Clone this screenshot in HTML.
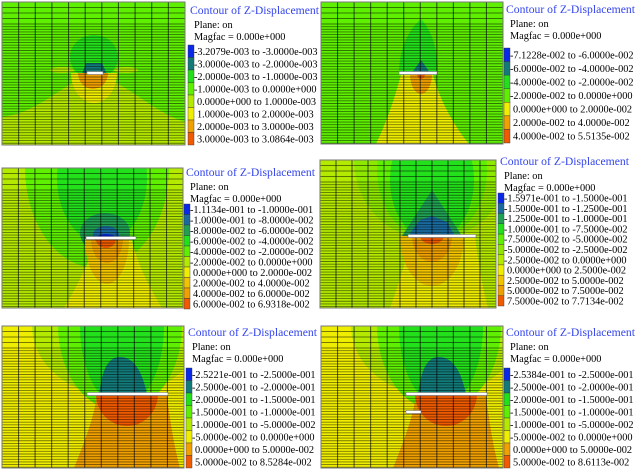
<!DOCTYPE html>
<html><head><meta charset="utf-8"><style>
html,body{margin:0;padding:0;background:#fff;}
svg{display:block;font-family:"Liberation Serif",serif;}
</style></head><body>
<svg id="root" width="637" height="471" viewBox="0 0 637 471" xmlns="http://www.w3.org/2000/svg"></svg>
<script>
const NS="http://www.w3.org/2000/svg";
const C={blue:"#0a28e8",teal:"#137a7a",dteal:"#1a6aa0",mgreen:"#1fa052",bgreen:"#22e01a",green:"#5ef000",lgreen:"#8ee800",ygreen:"#b4ea00",yellow:"#f0ee00",lorange:"#f2c400",orange:"#f0a000",red:"#f05a00"};
const legend1=["-3.2079e-003 to -3.0000e-003","-3.0000e-003 to -2.0000e-003","-2.0000e-003 to -1.0000e-003","-1.0000e-003 to 0.0000e+000","0.0000e+000 to 1.0000e-003","1.0000e-003 to 2.0000e-003","2.0000e-003 to 3.0000e-003","3.0000e-003 to 3.0864e-003"];
const colors1=[C.blue,C.teal,C.bgreen,C.green,C.ygreen,C.yellow,C.orange,C.red];
const legend2=["-7.1228e-002 to -6.0000e-002","-6.0000e-002 to -4.0000e-002","-4.0000e-002 to -2.0000e-002","-2.0000e-002 to 0.0000e+000","0.0000e+000 to 2.0000e-002","2.0000e-002 to 4.0000e-002","4.0000e-002 to 5.5135e-002"];
const colors2=[C.blue,C.teal,C.bgreen,C.green,C.yellow,C.orange,C.red];
const legend3=["-1.1134e-001 to -1.0000e-001","-1.0000e-001 to -8.0000e-002","-8.0000e-002 to -6.0000e-002","-6.0000e-002 to -4.0000e-002","-4.0000e-002 to -2.0000e-002","-2.0000e-002 to 0.0000e+000","0.0000e+000 to 2.0000e-002","2.0000e-002 to 4.0000e-002","4.0000e-002 to 6.0000e-002","6.0000e-002 to 6.9318e-002"];
const colors3=[C.blue,C.dteal,C.mgreen,C.bgreen,C.green,C.ygreen,C.yellow,C.lorange,C.orange,C.red];
const legend4=["-1.5971e-001 to -1.5000e-001","-1.5000e-001 to -1.2500e-001","-1.2500e-001 to -1.0000e-001","-1.0000e-001 to -7.5000e-002","-7.5000e-002 to -5.0000e-002","-5.0000e-002 to -2.5000e-002","-2.5000e-002 to 0.0000e+000","0.0000e+000 to 2.5000e-002","2.5000e-002 to 5.0000e-002","5.0000e-002 to 7.5000e-002","7.5000e-002 to 7.7134e-002"];
const colors4=[C.blue,C.dteal,C.mgreen,C.bgreen,C.green,C.lgreen,C.ygreen,C.yellow,C.lorange,C.orange,C.red];
const legend5=["-2.5221e-001 to -2.5000e-001","-2.5000e-001 to -2.0000e-001","-2.0000e-001 to -1.5000e-001","-1.5000e-001 to -1.0000e-001","-1.0000e-001 to -5.0000e-002","-5.0000e-002 to 0.0000e+000","0.0000e+000 to 5.0000e-002","5.0000e-002 to 8.5284e-002"];
const colors5=[C.blue,C.teal,C.bgreen,C.green,C.ygreen,C.yellow,C.orange,C.red];
const legend6=["-2.5384e-001 to -2.5000e-001","-2.5000e-001 to -2.0000e-001","-2.0000e-001 to -1.5000e-001","-1.5000e-001 to -1.0000e-001","-1.0000e-001 to -5.0000e-002","-5.0000e-002 to 0.0000e+000","0.0000e+000 to 5.0000e-002","5.0000e-002 to 8.6113e-002"];
const colors6=colors5;

const root=document.getElementById('root');
function el(tag,attrs,parent){const e=document.createElementNS(NS,tag);for(const k in attrs)e.setAttribute(k,attrs[k]);(parent||root).appendChild(e);return e;}
function half(cx,y,rx,ry){return `M${cx-rx},${y} A${rx},${ry} 0 0 0 ${cx+rx},${y} Z`;}

function panel(id,px,py,W,H,bg,shapes,bars,leg,cols,lx,ty,rowTop,rowBot){
  const g=el('g',{transform:`translate(${px},${py})`});
  
  
  const cid='clip'+id;
  const cp=el('clipPath',{id:cid},g);el('rect',{x:0,y:0,width:W,height:H},cp);
  const inner=el('g',{'clip-path':`url(#${cid})`},g);
  el('rect',{x:0,y:0,width:W,height:H,fill:bg},inner);
  shapes.forEach(s=>{const p=el(s[0],s[2],inner);p.setAttribute('fill',s[1]);});
  let y=0,ys=[];
  for(let i=0;i<4;i++){ys.push(y);y+=5.5;}
  while(y<H){ys.push(y);y+=2.65;}
  ys.forEach(v=>el('line',{x1:0,x2:W,y1:v,y2:v,stroke:'#000','stroke-opacity':0.5,'stroke-width':0.9},inner));
  for(let i=1;i<11;i++){const x=W*i/11;el('line',{x1:x,x2:x,y1:0,y2:H,stroke:'#000','stroke-opacity':0.6,'stroke-width':1.1},inner);}
  bars.forEach(b=>{const r=el('rect',{x:b[0],y:b[1]-1.5,width:b[2],height:3,fill:'#fff',stroke:'#667','stroke-width':0.5},inner);});
  el('rect',{x:0,y:0,width:W,height:H,fill:'none',stroke:'#777','stroke-width':1},g);
  const lg=el('g',{});
  
  
  const t=el('text',{x:lx,y:ty,'font-size':11.5,fill:'#3344ee',textLength:Math.min(129,636-lx),lengthAdjust:'spacingAndGlyphs'},lg);t.textContent='Contour of Z-Displacement';
  
  const a=el('text',{x:lx+4,y:ty+14,'font-size':10.3,fill:'#000'},lg);a.textContent='Plane: on';
  
  const m=el('text',{x:lx+4,y:ty+26,'font-size':10.3,fill:'#000'},lg);m.textContent='Magfac = 0.000e+000';
  
  const n=leg.length,rh=(rowBot-rowTop)/n;
  leg.forEach((s,i)=>{
    const sw=el('rect',{x:lx-2,y:rowTop+i*rh,width:6,height:rh,fill:cols[i],stroke:'#333','stroke-width':0.4},lg);
    
    const tx=el('text',{x:lx+4+(s[0]=='-'?0:3),y:rowTop+i*rh+rh/2+3.5,'font-size':10.3,fill:'#000'},lg);
    tx.textContent=s;
    
  });
}

panel('p1',2,2,183,143,C.green,[
 ['path',C.ygreen,{d:'M0,115 C40,110 60,80 92,72 C125,80 150,110 183,120 L183,143 L0,143Z'}],
 ['ellipse',C.bgreen,{cx:92,cy:55,rx:24,ry:22}],
 ['ellipse',C.ygreen,{cx:60,cy:68,rx:12,ry:3}],['ellipse',C.ygreen,{cx:124,cy:68,rx:12,ry:3}],
 ['path',C.yellow,{d:half(92,71,23,30)}],
 ['path',C.teal,{d:'M80,72 L84,61 L100,61 L105,72Z'}],
 ['path',C.orange,{d:half(91,71,15,16)}]
],[[85,71,16]],legend1,colors1,190,14,45,145);

panel('p2',321,2,182,142,C.green,[
 ['path',C.yellow,{d:'M55,142 C70,110 75,90 80,73 L112,73 C118,95 130,120 148,142Z'}],
 ['path',C.bgreen,{d:'M100,17 C85,30 78,50 78,72 L117,72 C117,50 112,30 100,17Z'}],
 ['path',C.teal,{d:'M100,58 L90,72 L110,72Z'}],
 ['path',C.orange,{d:half(100,72,11,20)}],
 ['path',C.red,{d:half(100,72,4,5)}]
],[[78,71,38]],legend2,colors2,506,13,48,143);

panel('p3',2,168,181,140,C.ygreen,[
 ['ellipse',C.green,{cx:95,cy:0,rx:72,ry:100}],
 ['ellipse',C.bgreen,{cx:100,cy:10,rx:45,ry:65}],
 ['ellipse',C.mgreen,{cx:103,cy:65,rx:25,ry:20}],
 ['path',C.yellow,{d:'M62,140 C80,110 88,90 95,72 L130,72 C135,95 145,115 160,140Z'}],
 ['path',C.lorange,{d:half(105,71,22,45)}],
 ['path',C.orange,{d:half(105,71,16,24)}],
 ['ellipse',C.dteal,{cx:104,cy:67,rx:13,ry:9}],
 ['ellipse',C.blue,{cx:104,cy:70,rx:9,ry:4}],
 ['path',C.red,{d:half(104,71,10,9)}]
],[[84,70,50]],legend3,colors3,186,176,204,309);

panel('p4',320,160,176,148,C.ygreen,[
 ['ellipse',C.lgreen,{cx:112,cy:0,rx:78,ry:80}],
 ['ellipse',C.green,{cx:112,cy:10,rx:55,ry:70}],
 ['ellipse',C.bgreen,{cx:112,cy:20,rx:42,ry:60}],
 ['path',C.mgreen,{d:'M112,30 L82,76 L142,76Z'}],
 ['path',C.dteal,{d:'M100,60 L112,56 L127,62 L135,76 L88,76Z'}],
 ['path',C.yellow,{d:'M70,148 C80,120 88,95 90,77 L155,77 C158,100 162,125 168,148Z'}],
 ['path',C.lorange,{d:half(112,76,32,50)}],
 ['path',C.orange,{d:half(112,76,20,26)}],
 ['path',C.red,{d:half(112,76,12,8)}]
],[[88,76,68]],legend4,colors4,500,165,193,306);

panel('p5',2,326,182,142,C.yellow,[
 ['ellipse',C.ygreen,{cx:115,cy:0,rx:85,ry:70}],
 ['ellipse',C.green,{cx:118,cy:0,rx:62,ry:85}],
 ['ellipse',C.bgreen,{cx:120,cy:0,rx:42,ry:80}],
 ['path',C.teal,{d:'M97,68 C100,50 102,38 112,32 C125,28 138,35 145,68Z'}],
 ['path',C.orange,{d:'M72,142 C85,110 92,90 95,69 L165,69 C168,95 172,120 178,142Z'}],
 ['path',C.red,{d:half(125,68,31,32)}]
],[[85,68,81]],legend5,colors5,188,336,368,468);

panel('p6',321,326,182,142,C.yellow,[
 ['ellipse',C.ygreen,{cx:115,cy:0,rx:85,ry:70}],
 ['ellipse',C.green,{cx:118,cy:0,rx:62,ry:85}],
 ['ellipse',C.bgreen,{cx:120,cy:0,rx:42,ry:80}],
 ['path',C.teal,{d:'M97,68 C100,50 102,38 112,32 C125,28 138,35 145,68Z'}],
 ['path',C.orange,{d:'M72,142 C85,110 92,90 95,69 L165,69 C168,95 172,120 178,142Z'}],
 ['path',C.red,{d:half(125,68,31,32)}]
],[[85,68,81],[85,86,15]],legend6,colors6,506,336,368,468);
</script>
</body></html>
